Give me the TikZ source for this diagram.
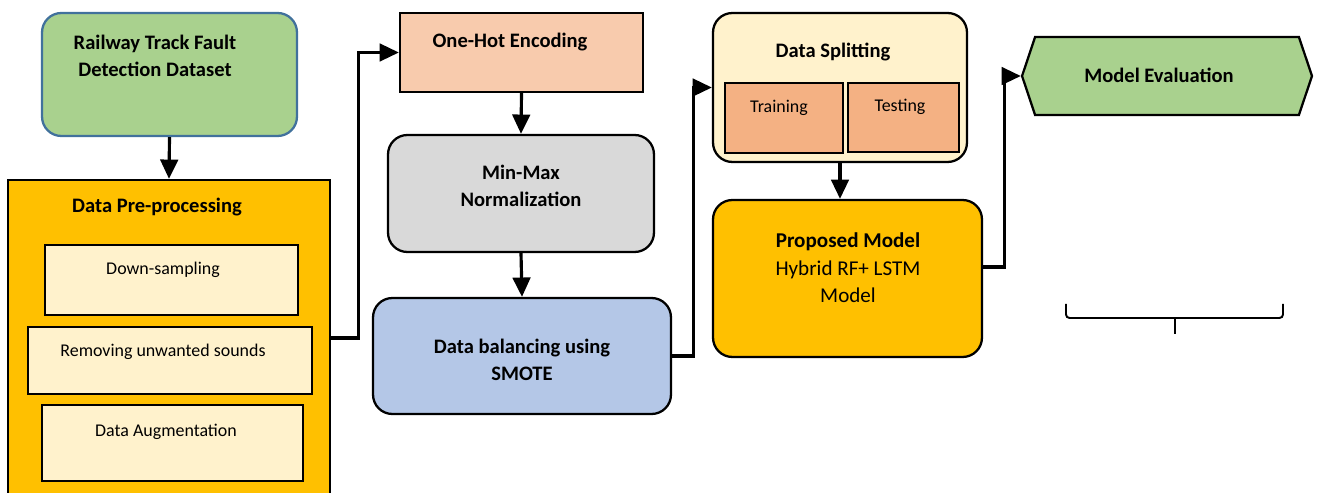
\documentclass[tikz,border=0pt]{standalone}
\usepackage{fontspec}
\setmainfont{Carlito}
\usepackage{xcolor}
\usetikzlibrary{arrows.meta, shapes.symbols, positioning, calc}
\definecolor{dsgreen}{HTML}{A9D18E}
\definecolor{dsblue}{HTML}{41719C}
\definecolor{prepgold}{HTML}{FFC000}
\definecolor{creamy}{HTML}{FFF2CC}
\definecolor{peach}{HTML}{F8CBAD}
\definecolor{normgray}{HTML}{D9D9D9}
\definecolor{smoteblue}{HTML}{B4C7E7}
\definecolor{splitpeach}{HTML}{F4B183}

\begin{document}
\begin{tikzpicture}[x=0.02cm, y=-0.02cm,
    box/.style={draw=black, line width=1.3pt, inner sep=0pt},
    rbox/.style={box, rounded corners=11pt},
    title/.style={font=\fontsize{11.7}{15.5}\selectfont\bfseries, align=center, inner sep=0pt},
    txt/.style={font=\fontsize{10.2}{14}\selectfont, align=center, inner sep=0pt},
    bigtxt/.style={font=\fontsize{12}{15.6}\selectfont, align=center, inner sep=0pt},
    conn/.style={line width=1.8pt, -{Triangle[length=11pt,width=10pt]}},
    brace/.style={line width=1.1pt, rounded corners=2pt}]
    \useasboundingbox (0,0) rectangle (1319,493);

    % Draw the dataset box
    \node[rbox, draw=dsblue, fill=dsgreen, minimum width=5.1cm, minimum height=2.46cm] (data) at (169.5,74.5) {};
    \node[title] (datatxt) at (155,56) {Railway Track Fault\\Detection Dataset};

    % Draw the pre-processing block
    \node[box, fill=prepgold, minimum width=6.44cm, minimum height=6.6cm] (prep) at (169,345) {};
    \node[title] (preptxt) at (157,207) {Data Pre-processing};
    \node[box, fill=creamy, minimum width=5.06cm, minimum height=1.4cm] (down) at (171.5,280) {};
    \node[txt] (downtxt) at (163,270) {Down-sampling};
    \node[box, fill=creamy, minimum width=5.68cm, minimum height=1.34cm] (remove) at (170,360.5) {};
    \node[txt] (removetxt) at (163,352) {Removing unwanted sounds};
    \node[box, fill=creamy, minimum width=5.22cm, minimum height=1.52cm] (augm) at (172.5,443) {};
    \node[txt] (augmtxt) at (166,432) {Data Augmentation};

    % Draw the middle column
    \node[box, fill=peach, minimum width=4.86cm, minimum height=1.58cm] (onehot) at (521.5,52.5) {};
    \node[title] (onehottxt) at (510,42) {One-Hot Encoding};
    \node[rbox, fill=normgray, minimum width=5.32cm, minimum height=2.34cm] (minmax) at (521,193.5) {};
    \node[title] (minmaxtxt) at (521,186) {Min-Max\\Normalization};
    \node[rbox, fill=smoteblue, minimum width=5.96cm, minimum height=2.32cm] (smote) at (522,356) {};
    \node[title] (smotetxt) at (522,360) {Data balancing using\\SMOTE};

    % Draw splitting and model
    \node[rbox, fill=creamy, minimum width=5.08cm, minimum height=2.98cm] (split) at (840,87.5) {};
    \node[title] (splittxt) at (833,52) {Data Splitting};
    \node[box, line width=0.8pt, fill=splitpeach, minimum width=2.36cm, minimum height=1.4cm] (train) at (784,118) {};
    \node[txt] (traintxt) at (779,108) {Training};
    \node[box, line width=0.8pt, fill=splitpeach, minimum width=2.22cm, minimum height=1.38cm] (test) at (903.5,117.5) {};
    \node[txt] (testtxt) at (900,107) {Testing};
    \node[rbox, fill=prepgold, minimum width=5.38cm, minimum height=3.14cm] (model) at (847.5,278.5) {};
    \node[bigtxt] (modeltxt) at (848,268) {\textbf{Proposed Model}\\Hybrid RF+ LSTM\\Model};

    % Draw the evaluation step
    \node[box, shape=signal, signal to=east and west, signal pointer angle=143, fill=dsgreen,
          minimum width=5.8cm, minimum height=1.56cm] (eval) at (1167,76) {};
    \node[title] (evaltxt) at (1159,75) {Model Evaluation};

    % Draw the connectors
    \draw[conn] (data.south) -- (prep.north);
    \draw[conn] ([yshift=4pt]prep.east) -- ++(27,0) |- (onehot.west);
    \draw[conn] (onehot.south) -- (minmax.north);
    \draw[conn] (minmax.south) -- (smote.north);
    \draw[conn] (smote.east) -- ++(21,0) |- (split.west);
    \draw[conn] (split.south) -- (split.south |- model.north);
    \draw[conn] ([yshift=6.5pt]model.east) -- ++(21,0) |- (eval.west);

    % Draw the bracket
    \draw[brace] (1066,304) -- (1066,318) -- (1283,318) -- (1283,304);
    \draw[brace] (1175,318) -- (1175,334);
\end{tikzpicture}
\end{document}
